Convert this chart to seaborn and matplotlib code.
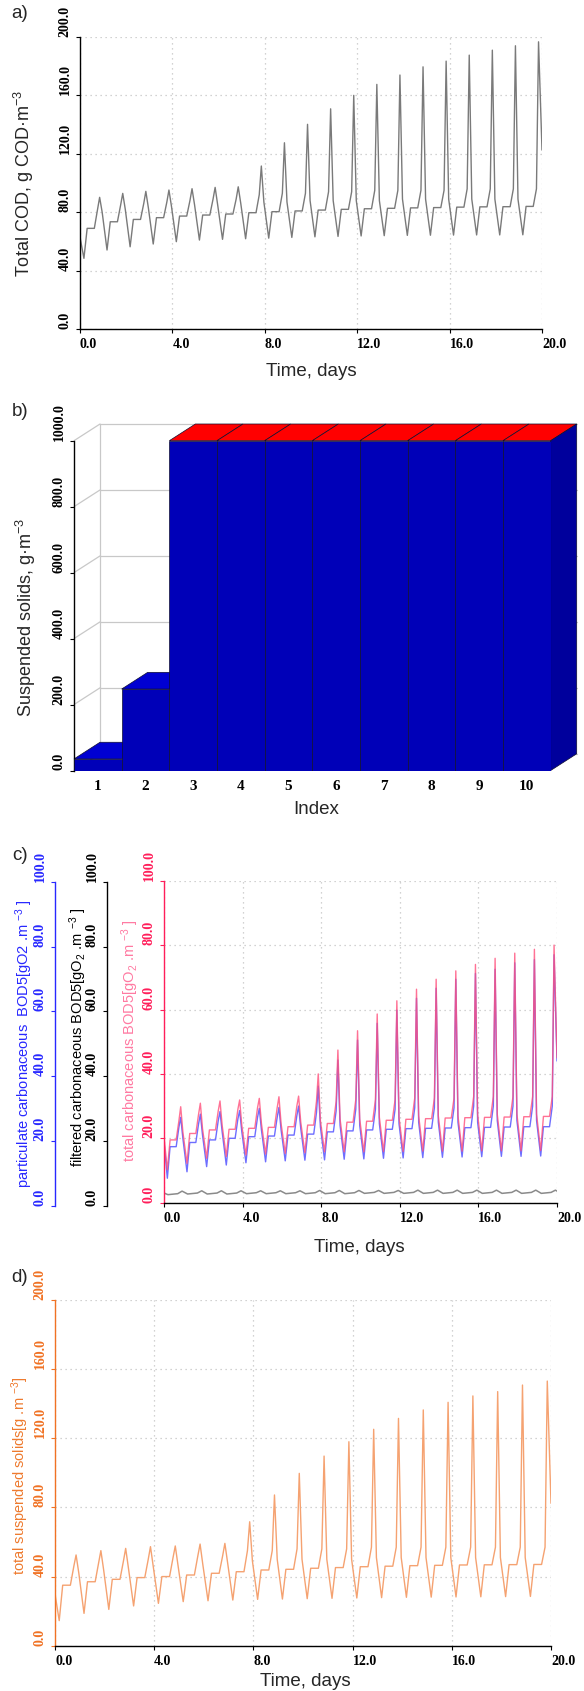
import numpy as np
import pandas as pd
import matplotlib
matplotlib.use("Agg")
import matplotlib.pyplot as plt
import seaborn as sns
from matplotlib.patches import Polygon

# ---------------- data ----------------
# Panel a: total COD (one daily cycle per day, key values per cycle)
A_START = 63.0
A_TROUGH = [48.5, 54.2, 56.4, 58.3, 59.9, 61.0, 61.5, 61.9, 62.3, 62.8,
            63.2, 63.5, 63.8, 64.0, 64.2, 64.3, 64.4, 64.5, 64.5, 64.6]
A_PLATEAU = [69.0, 73.5, 75.1, 76.3, 77.4, 78.1, 78.8, 79.7, 80.4, 80.9,
             81.5, 82.0, 82.4, 82.7, 83.0, 83.2, 83.5, 83.7, 83.8, 84.0]
A_PRE = [82, 85, 86, 87, 88, 89, 89, 92, 93, 93, 94, 94, 95, 95, 95, 95, 96, 96, 96, 96]
A_PEAK = [90.2, 92.9, 94.3, 95.2, 96.1, 97.0, 97.4, 111.6, 127.5, 140.1,
          150.7, 159.9, 167.4, 173.8, 179.4, 183.3, 187.4, 190.8, 193.8, 196.5]
A_POST = [80, 82, 83, 84, 85, 85, 86, 87, 87, 88, 88, 88, 88, 89, 89, 89, 89, 89, 89]
A_END = 122.5

# Panel b: suspended solids per layer index
SS_INDEX = ["1", "2", "3", "4", "5", "6", "7", "8", "9", "10"]
SS_VALUES = [35, 247, 1000, 1000, 1000, 1000, 1000, 1000, 1000, 1000]

# Panel c: BOD5 series
C_RED_START = 20.5
C_RED_TROUGH = [10.2, 12.2, 13.8, 14.3, 14.8, 15.1, 15.3, 15.5, 15.8, 15.8,
                15.8, 15.9, 15.9, 16.0, 16.0, 16.0, 16.1, 16.1, 16.1, 16.2]
C_RED_PLATEAU = [19.5, 21.5, 22.6, 22.8, 23.1, 23.4, 23.6, 24.1, 24.6, 25.0,
                 25.3, 25.6, 25.9, 26.1, 26.3, 26.4, 26.5, 26.6, 26.7, 26.8]
C_RED_PRE = [25.5, 27.5, 28.5, 29, 29.5, 29.5, 30, 31.5, 31.5, 32,
             32, 32, 32.5, 32.5, 32.5, 33, 33, 33, 33, 33]
C_RED_PEAK = [29.8, 30.9, 31.6, 31.9, 32.4, 32.9, 33.1, 40.0, 47.4, 53.4,
              58.6, 62.7, 66.3, 69.4, 72.0, 74.0, 75.9, 77.5, 78.7, 80.0]
C_RED_POST = [22, 23, 24, 24, 24.5, 24.5, 25, 25.5, 26, 26, 26.5, 26.5, 27, 27, 27, 27.5, 27.5, 27.5, 27.5]
C_RED_END = 45.0

C_BLUE_START = 19.0
C_BLUE_TROUGH = [7.6, 9.6, 11.2, 11.7, 12.4, 12.7, 13.0, 13.2, 13.3, 13.5,
                 13.6, 13.8, 13.9, 14.0, 14.1, 14.2, 14.3, 14.4, 14.4, 14.5]
C_BLUE_PLATEAU = [17.4, 18.7, 19.5, 20.0, 20.5, 20.7, 21.0, 21.3, 22.0, 22.3,
                  22.6, 22.8, 23.0, 23.1, 23.2, 23.3, 23.4, 23.5, 23.6, 23.6]
C_BLUE_PRE = [23.5, 24.5, 25.5, 26, 26.5, 26.5, 27, 28, 28.5, 29,
              29, 29, 29.5, 29.5, 29.5, 30, 30, 30, 30, 30]
C_BLUE_PEAK = [26.5, 27.5, 28.3, 28.6, 29.3, 29.6, 30.0, 36.2, 44.3, 50.5,
               55.7, 59.8, 63.5, 66.6, 69.4, 71.2, 72.5, 74.5, 75.5, 77.0]
C_BLUE_POST = [20, 21, 22, 22, 22.5, 22.5, 23, 23.5, 24, 24, 24.5, 24.5, 25, 25, 25, 25, 25.5, 25.5, 25.5]
C_BLUE_END = 44.0

C_GRAY_START = 3.0
C_GRAY_LOW = [2.5, 2.7, 2.7, 2.7, 2.8, 2.8, 2.8, 2.8, 2.8, 2.8,
              2.9, 2.9, 2.9, 2.9, 2.9, 2.9, 2.9, 2.9, 2.9, 2.9]
C_GRAY_HIGH = [3.6, 3.7, 3.7, 3.7, 3.7, 3.7, 3.7, 3.8, 3.8, 3.8,
               3.8, 3.8, 3.9, 3.9, 3.9, 3.9, 3.9, 3.9, 3.9, 3.9]
C_GRAY_END = 3.6

# Panel d: total suspended solids
D_START = 30.0
D_TROUGH = [14.5, 18.7, 21.0, 23.0, 24.5, 25.5, 26.0, 26.4, 26.8, 27.0,
            27.2, 27.4, 27.6, 27.8, 28.0, 28.1, 28.2, 28.3, 28.4, 28.5]
D_PLATEAU = [35.0, 37.0, 38.4, 39.4, 40.0, 40.9, 41.9, 42.8, 43.8, 44.2,
             44.8, 45.2, 45.7, 46.0, 46.3, 46.5, 46.7, 46.8, 46.9, 47.0]
D_PRE = [46, 48, 49, 50, 51, 52, 52, 55, 55, 56, 56, 56, 57, 57, 57, 57, 57, 57, 57, 57]
D_PEAK = [52.5, 55.0, 56.3, 57.3, 57.7, 58.8, 59.2, 71.7, 87.2, 99.7,
          109.7, 118.0, 125.2, 131.5, 136.4, 140.8, 144.5, 147.0, 150.8, 153.1]
D_POST = [42, 44, 45, 46, 46.5, 47, 48, 49, 50, 50, 50, 50, 51, 51, 51, 51, 51, 51, 51]
D_END = 82.4

TIME_TICKS = [0, 4, 8, 12, 16, 20]

# ---------------- helpers ----------------
def cycle_series(start, trough, plat, pre, peak, post, end):
    t, v = [0.0], [start]
    for d in range(len(peak)):
        t += [d + 0.17, d + 0.31, d + 0.62, d + 0.76, d + 0.85]
        v += [trough[d], plat[d], plat[d], pre[d], peak[d]]
        if d < len(post):
            t.append(d + 0.96)
            v.append(post[d])
    t.append(20.0)
    v.append(end)
    return pd.DataFrame({"t": t, "v": v})


def gray_series(start, low, high, end):
    t, v = [0.0], [start]
    for d in range(len(low)):
        t += [d + 0.2, d + 0.7, d + 0.92]
        v += [low[d], low[d] + 0.3, high[d]]
    t.append(20.0)
    v.append(end)
    return pd.DataFrame({"t": t, "v": v})


sns.set_theme(style="white")
plt.rcParams["font.family"] = ["Liberation Sans", "DejaVu Sans"]
plt.rcParams["mathtext.fontset"] = "custom"
plt.rcParams["mathtext.rm"] = "Liberation Sans"
plt.rcParams["mathtext.it"] = "Liberation Sans:italic"
plt.rcParams["mathtext.bf"] = "Liberation Sans:bold"

W, H = 584, 1691
fig = plt.figure(figsize=(W / 100, H / 100), dpi=100)
fig.patch.set_facecolor("white")


def rect(l, t, r, b):
    return [l / W, 1 - b / H, (r - l) / W, (b - t) / H]


def ftext(x, y, s, **kw):
    fig.text(x / W, 1 - y / H, s, **kw)


TICKFONT = dict(fontfamily="Liberation Serif", fontweight="bold", fontsize=10)
GRID = dict(linestyle=(0, (1, 3)), color="#c4c4c4", linewidth=0.9)


def style_y(ax, ticks, color):
    ax.set_ylim(ticks[0], ticks[-1])
    ax.set_yticks(ticks)
    ax.tick_params(axis="y", direction="out", length=3, width=0.8, pad=3,
                   color=color, left=True)
    ax.set_yticklabels([f"{v:.1f}" for v in ticks], rotation=90, ha="left",
                       va="bottom", rotation_mode="anchor", color=color, **TICKFONT)


def style_x_time(ax):
    ax.set_xlim(0, 20)
    ax.set_xticks(TIME_TICKS)
    ax.tick_params(axis="x", direction="out", length=3, width=0.8, pad=3.5,
                   color="black", bottom=True)
    ax.set_xticklabels([f"{v:.1f}" for v in TIME_TICKS], ha="left", color="black", **TICKFONT)


def base_spines(ax, left_color, bottom=True):
    for s in ["top", "right"]:
        ax.spines[s].set_visible(False)
    ax.spines["left"].set_color(left_color)
    ax.spines["left"].set_linewidth(1.0)
    ax.spines["bottom"].set_visible(bottom)
    ax.spines["bottom"].set_color("black")
    ax.spines["bottom"].set_linewidth(1.0)


LABFS = 13.5

# ---------------- panel a ----------------
ax_a = fig.add_axes(rect(80, 36.7, 542, 329.3))
df_a = cycle_series(A_START, A_TROUGH, A_PLATEAU, A_PRE, A_PEAK, A_POST, A_END)
sns.lineplot(data=df_a, x="t", y="v", ax=ax_a, color="#7a7a7a", linewidth=1.0,
             sort=False, estimator=None)
base_spines(ax_a, "black")
style_x_time(ax_a)
style_y(ax_a, [0, 40, 80, 120, 160, 200], "black")
ax_a.grid(True, **GRID)
ax_a.set_xlabel("")
ax_a.set_ylabel("")
ftext(20, 14, "a)", fontsize=LABFS, ha="center", va="center")
ftext(311, 371, "Time, days", fontsize=LABFS, ha="center", va="center")
ftext(24, 183, "Total COD, g COD·m$^{-3}$", fontsize=13, rotation=90,
      ha="center", va="center")

# ---------------- panel b (pseudo-3D bars) ----------------
ax_b = fig.add_axes(rect(74, 440.7, 550.7, 770.5))
df_b = pd.DataFrame({"index": SS_INDEX, "ss": SS_VALUES})
sns.barplot(data=df_b, x="index", y="ss", ax=ax_b, color="#0000B8", saturation=1,
            width=1.0, edgecolor="#101030", linewidth=0.5, errorbar=None, zorder=3)
ax_b.set_xlim(-0.5, 9.5)
ax_b.set_facecolor("none")
px_per_x = (550.7 - 74) / 10.0
px_per_y = (770.5 - 440.7) / 1000.0
DX = 26 / px_per_x
DY = 16.7 / px_per_y
wall = "#c8c8c8"
x0 = -0.5
for v in [0, 200, 400, 600, 800, 1000]:
    ax_b.plot([x0, x0 + DX], [v, v + DY], color=wall, lw=0.9, clip_on=False, zorder=1)
    ax_b.plot([x0 + DX, 9.5 + DX], [v + DY, v + DY], color=wall, lw=0.9,
              clip_on=False, zorder=1)
ax_b.plot([x0 + DX, x0 + DX], [DY, 1000 + DY], color=wall, lw=0.9, clip_on=False, zorder=1)
bars = list(ax_b.patches)
for i, p in enumerate(bars):
    bx, bw, bh = p.get_x(), p.get_width(), p.get_height()
    top_col = "#FF0000" if bh >= 900 else "#0000D2"
    top = Polygon([(bx, bh), (bx + DX, bh + DY), (bx + bw + DX, bh + DY), (bx + bw, bh)],
                  closed=True, facecolor=top_col, edgecolor="#101030", lw=0.5,
                  clip_on=False, zorder=2)
    ax_b.add_patch(top)
    if i == len(bars) - 1:
        side = Polygon([(bx + bw, 0), (bx + bw + DX, DY), (bx + bw + DX, bh + DY),
                        (bx + bw, bh)], closed=True, facecolor="#00009C",
                       edgecolor="#101030", lw=0.5, clip_on=False, zorder=2)
        ax_b.add_patch(side)
base_spines(ax_b, "black", bottom=False)
style_y(ax_b, [0, 200, 400, 600, 800, 1000], "black")
ax_b.tick_params(axis="x", length=0, pad=7)
ax_b.set_xticks(range(len(SS_INDEX)))
ax_b.set_xticklabels(SS_INDEX, fontfamily="Liberation Serif", fontweight="bold",
                     fontsize=11, color="black")
ax_b.set_xlabel("")
ax_b.set_ylabel("")
ftext(20, 411, "b)", fontsize=LABFS, ha="center", va="center")
ftext(316, 810, "Index", fontsize=LABFS, ha="center", va="center")
ftext(26, 617, "Suspended solids, g·m$^{-3}$", fontsize=13, rotation=90,
      ha="center", va="center")

# ---------------- panel c (three y axes) ----------------
RED, BLUE = "#FF1E5A", "#2828FF"
ax_c = fig.add_axes(rect(164, 880.7, 557, 1202.7))
df_blue = cycle_series(C_BLUE_START, C_BLUE_TROUGH, C_BLUE_PLATEAU, C_BLUE_PRE,
                       C_BLUE_PEAK, C_BLUE_POST, C_BLUE_END)
df_red = cycle_series(C_RED_START, C_RED_TROUGH, C_RED_PLATEAU, C_RED_PRE,
                      C_RED_PEAK, C_RED_POST, C_RED_END)
df_gray = gray_series(C_GRAY_START, C_GRAY_LOW, C_GRAY_HIGH, C_GRAY_END)
sns.lineplot(data=df_gray, x="t", y="v", ax=ax_c, color="#8a8a8a", linewidth=1.1,
             sort=False, estimator=None)
sns.lineplot(data=df_blue, x="t", y="v", ax=ax_c, color="#6E6EFF", linewidth=1.0,
             sort=False, estimator=None)
sns.lineplot(data=df_red, x="t", y="v", ax=ax_c, color="#FF4F7B", linewidth=1.0,
             alpha=0.8, sort=False, estimator=None)
base_spines(ax_c, RED)
style_x_time(ax_c)
style_y(ax_c, [0, 20, 40, 60, 80, 100], RED)
ax_c.grid(True, **GRID)
ax_c.set_xlabel("")
ax_c.set_ylabel("")

for xpx, col in [(55, BLUE), (107, "black")]:
    axx = fig.add_axes(rect(xpx, 881.7, xpx + 0.5, 1206))
    axx.set_facecolor("none")
    for s in ["top", "right", "bottom"]:
        axx.spines[s].set_visible(False)
    axx.spines["left"].set_color(col)
    axx.spines["left"].set_linewidth(1.0)
    axx.set_xticks([])
    style_y(axx, [0, 20, 40, 60, 80, 100], col)

ftext(20, 855, "c)", fontsize=LABFS, ha="center", va="center")
ftext(359, 1247, "Time, days", fontsize=LABFS, ha="center", va="center")
ftext(24, 1044, "particulate carbonaceous  BOD5[gO2 .m $^{-3}$ ]", fontsize=10.5,
      rotation=90, ha="center", va="center", color=BLUE)
ftext(78, 1037, "filtered carbonaceous BOD5[gO$_2$ .m $^{-3}$ ]", fontsize=10.5,
      rotation=90, ha="center", va="center", color="black")
ftext(130, 1041, "total carbonaceous BOD5[gO$_2$ .m $^{-3}$ ]", fontsize=10.5,
      rotation=90, ha="center", va="center", color="#FF7AA2")

# ---------------- panel d ----------------
ORANGE = "#F07224"
ax_d = fig.add_axes(rect(55, 1300, 551, 1645.7))
df_d = cycle_series(D_START, D_TROUGH, D_PLATEAU, D_PRE, D_PEAK, D_POST, D_END)
sns.lineplot(data=df_d, x="t", y="v", ax=ax_d, color="#F5A271", linewidth=1.0,
             sort=False, estimator=None)
base_spines(ax_d, ORANGE)
style_x_time(ax_d)
style_y(ax_d, [0, 40, 80, 120, 160, 200], ORANGE)
ax_d.grid(True, **GRID)
ax_d.set_xlabel("")
ax_d.set_ylabel("")
ftext(20, 1278, "d)", fontsize=LABFS, ha="center", va="center")
ftext(305, 1681, "Time, days", fontsize=LABFS, ha="center", va="center")
ftext(20.5, 1476, "total suspended solids[g .m $^{-3}$]", fontsize=10.5,
      rotation=90, ha="center", va="center", color="#EE7A2E")

fig.savefig("out.png", dpi=100, facecolor="white")
